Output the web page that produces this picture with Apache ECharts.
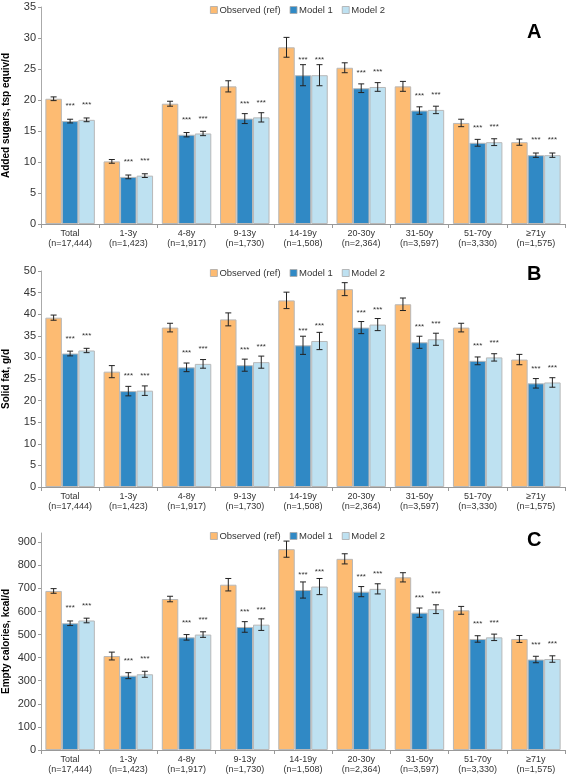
<!DOCTYPE html>
<html>
<head>
<meta charset="utf-8">
<script src="https://cdn.jsdelivr.net/npm/echarts@6/dist/echarts.min.js"></script>
<style>html,body{margin:0;padding:0;background:#fff}#c{width:567px;height:774px}</style>
</head>
<body>
<div id="c"></div>
<script>
var categories = ['Total\n(n=17,444)','1-3y\n(n=1,423)','4-8y\n(n=1,917)','9-13y\n(n=1,730)','14-19y\n(n=1,508)','20-30y\n(n=2,364)','31-50y\n(n=3,597)','51-70y\n(n=3,330)','\u226571y\n(n=1,575)'];
var seriesNames = ['Observed (ref)','Model 1','Model 2'];

// Panel A: Added sugars, tsp equiv/d
var sugarObs = [20.2, 10.1, 19.4, 22.2, 28.5, 25.2, 22.2, 16.3, 13.2];
var sugarM1  = [16.6, 7.6, 14.4, 17.0, 24.0, 21.9, 18.3, 13.1, 11.1];
var sugarM2  = [16.8, 7.8, 14.6, 17.2, 24.0, 22.1, 18.4, 13.2, 11.1];
var sugarObsErr = [0.3, 0.3, 0.4, 0.9, 1.6, 0.8, 0.8, 0.6, 0.5];
var sugarM1Err  = [0.3, 0.3, 0.35, 0.8, 1.7, 0.7, 0.6, 0.55, 0.35];
var sugarM2Err  = [0.3, 0.3, 0.35, 0.75, 1.7, 0.7, 0.6, 0.55, 0.35];

// Panel B: Solid fat, g/d
var fatObs = [39.2, 26.7, 36.9, 38.8, 43.2, 45.8, 42.3, 36.9, 29.5];
var fatM1  = [30.9, 22.2, 27.7, 28.2, 32.8, 36.9, 33.5, 29.2, 24.0];
var fatM2  = [31.6, 22.3, 28.5, 28.9, 33.8, 37.6, 34.2, 30.0, 24.2];
var fatObsErr = [0.6, 1.4, 1.0, 1.5, 1.9, 1.5, 1.45, 1.0, 1.2];
var fatM1Err  = [0.55, 1.1, 1.0, 1.4, 2.1, 1.4, 1.4, 0.9, 1.1];
var fatM2Err  = [0.5, 1.1, 1.0, 1.4, 2.0, 1.4, 1.4, 0.85, 1.1];

// Panel C: Empty calories, kcal/d
var calObs = [689, 407, 654, 716, 870, 828, 748, 605, 481];
var calM1  = [549, 322, 488, 533, 693, 686, 595, 481, 392];
var calM2  = [561, 328, 500, 543, 708, 698, 610, 488, 394];
var calObsErr = [10, 17, 12, 27, 35, 22, 20, 17, 15];
var calM1Err  = [10, 13, 12, 23, 35, 22, 20, 14, 14];
var calM2Err  = [10, 13, 12, 25, 35, 22, 19, 14, 14];

var yNames = ['Added sugars, tsp equiv/d','Solid fat, g/d','Empty calories, kcal/d'];
var yMax = [35, 50, 940];
var yInterval = [5, 5, 100];
var letters = ['A','B','C'];

var panels = [
  {vals:[sugarObs,sugarM1,sugarM2], errs:[sugarObsErr,sugarM1Err,sugarM2Err]},
  {vals:[fatObs,fatM1,fatM2], errs:[fatObsErr,fatM1Err,fatM2Err]},
  {vals:[calObs,calM1,calM2], errs:[calObsErr,calM1Err,calM2Err]}
];

var colors = ['#FDBB72','#3089C5','#BEE1F1'];
var gridTops = [7, 271, 533];
var gridHeights = [217, 216, 217];
var legendTops = [0, 263, 526];
var letterTops = [17, 259, 525];
var CAT_GAP = 0.15;

var chart = echarts.init(document.getElementById('c'));
var option = {
  animation:false,
  backgroundColor:'#fff',
  textStyle:{fontFamily:'Liberation Sans, Arial, sans-serif'},
  title: letters.map(function(l,i){return {text:l,left:522,top:letterTops[i],textStyle:{fontSize:20,fontWeight:'bold',color:'#000',fontFamily:'Liberation Sans, Arial, sans-serif'}};}),
  legend: [0,1,2].map(function(i){return {
    data:seriesNames, top:legendTops[i], left:205, itemWidth:7, itemHeight:7, itemGap:9,
    icon:'rect', textStyle:{fontSize:9.5,color:'#333',padding:[0,0,0,-3]},
    itemStyle:{borderColor:'#aaa',borderWidth:0.8}
  };}),
  grid: [0,1,2].map(function(i){return {left:41,right:2,top:gridTops[i],height:gridHeights[i],containLabel:false,outerBoundsMode:'none'};}),
  xAxis: [0,1,2].map(function(i){return {
    type:'category', gridIndex:i, data:categories,
    axisLine:{lineStyle:{color:'#999',width:1}},
    axisTick:{show:true,length:4,lineStyle:{color:'#999'}},
    axisLabel:{fontSize:9,color:'#333',lineHeight:10,margin:5,interval:0}
  };}),
  yAxis: [0,1,2].map(function(i){return {
    type:'value', gridIndex:i, min:0, max:yMax[i], interval:yInterval[i],
    name:yNames[i], nameLocation:'middle', nameGap:30, nameMoveOverlap:false,
    nameTextStyle:{fontSize:10,fontWeight:'bold',color:'#000'},
    axisLine:{show:true,lineStyle:{color:'#aaa',width:1}},
    axisTick:{show:true,length:3,lineStyle:{color:'#999'}},
    axisLabel:{fontSize:11,color:'#333',margin:5,showMaxLabel:i<2},
    splitLine:{show:false}
  };}),
  series:[]
};

panels.forEach(function(p, pi){
  for (var s=0; s<3; s++){
    option.series.push({
      type:'bar', name:seriesNames[s], xAxisIndex:pi, yAxisIndex:pi,
      data:p.vals[s], barGap:'0%', barCategoryGap:(CAT_GAP*100)+'%',
      itemStyle:{color:colors[s], borderColor:'#b8b8b8', borderWidth:1},
      label: s===0 ? {show:false} : {show:true, position:'top', distance:11, formatter:'***', fontSize:8, color:'#333'}
    });
  }
  var errData = [];
  for (var s2=0; s2<3; s2++){
    for (var c=0; c<categories.length; c++){
      errData.push([c, p.vals[s2][c], p.errs[s2][c], s2]);
    }
  }
  option.series.push({
    type:'custom', xAxisIndex:pi, yAxisIndex:pi, data:errData, z:10,
    renderItem:function(params, api){
      var c = api.value(0), v = api.value(1), e = api.value(2), s = api.value(3);
      var band = api.size([1,0])[0];
      var bw = band*(1-CAT_GAP)/3;
      var off = (s-1)*bw;
      var hi = api.coord([c, v+e]);
      var lo = api.coord([c, v-e]);
      var x = hi[0] + off;
      var cap = 3;
      var st = {stroke:'#222', lineWidth:1};
      return {type:'group', children:[
        {type:'line', shape:{x1:x,y1:hi[1],x2:x,y2:lo[1]}, style:st},
        {type:'line', shape:{x1:x-cap,y1:hi[1],x2:x+cap,y2:hi[1]}, style:st},
        {type:'line', shape:{x1:x-cap,y1:lo[1],x2:x+cap,y2:lo[1]}, style:st}
      ]};
    }
  });
});

chart.setOption(option);
</script>
</body>
</html>
